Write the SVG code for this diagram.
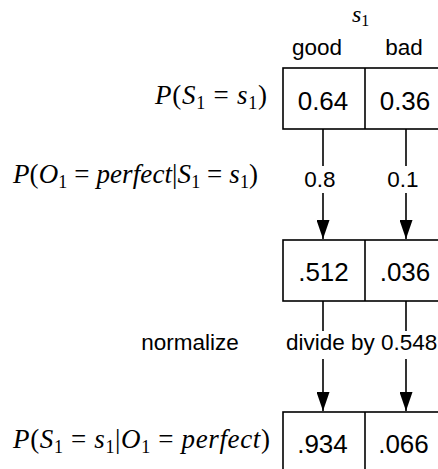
<svg xmlns="http://www.w3.org/2000/svg" width="438" height="469" viewBox="0 0 438 469">
<style>
  .box { fill: #fff; stroke: #000; stroke-width: 1.6; }
  .div { stroke: #000; stroke-width: 1.6; }
  .num { font-family: "Liberation Sans", Arial, sans-serif; font-size: 26px; text-anchor: middle; fill: #000; }
  .lbl { font-family: "Liberation Sans", Arial, sans-serif; font-size: 22.5px; text-anchor: middle; fill: #000; }
  .m { font-family: "Liberation Serif", "Times New Roman", serif; font-size: 27px; fill: #000; }
  .i { font-style: italic; }
  .sub { font-size: 18px; }
  .conn line { stroke: #000; stroke-width: 1.6; }
</style>
<defs>
  <marker id="ah" markerUnits="userSpaceOnUse" markerWidth="19" markerHeight="13" viewBox="0 0 19 13" refX="19" refY="6.5" orient="auto">
    <path d="M0,0 L19,6.5 L0,13 z" fill="#000"/>
  </marker>
</defs>
<rect width="438" height="469" fill="#fff"/>

<!-- header -->
<g id="header">
  <text class="m" x="352" y="22" style="font-size:24px"><tspan class="i">s</tspan><tspan class="sub" style="font-size:16px" dy="4">1</tspan></text>
  <text class="lbl" x="317" y="55">good</text>
  <text class="lbl" x="404" y="55">bad</text>
</g>

<!-- row labels -->
<g id="labels">
  <text class="m" x="155" y="104" textLength="112" lengthAdjust="spacing"><tspan class="i">P</tspan>(<tspan class="i">S</tspan><tspan class="sub" dy="5">1</tspan><tspan dy="-5"> = </tspan><tspan class="i">s</tspan><tspan class="sub" dy="5">1</tspan><tspan dy="-5">)</tspan></text>
  <text class="m" x="13" y="183" textLength="245" lengthAdjust="spacing"><tspan class="i">P</tspan>(<tspan class="i">O</tspan><tspan class="sub" dy="5">1</tspan><tspan dy="-5"> = </tspan><tspan class="i">perfect</tspan>|<tspan class="i">S</tspan><tspan class="sub" dy="5">1</tspan><tspan dy="-5"> = </tspan><tspan class="i">s</tspan><tspan class="sub" dy="5">1</tspan><tspan dy="-5">)</tspan></text>
  <text class="lbl" x="190" y="350">normalize</text>
  <text class="m" x="13" y="448" textLength="257" lengthAdjust="spacing"><tspan class="i">P</tspan>(<tspan class="i">S</tspan><tspan class="sub" dy="5">1</tspan><tspan dy="-5"> = </tspan><tspan class="i">s</tspan><tspan class="sub" dy="5">1</tspan><tspan dy="-5">|</tspan><tspan class="i">O</tspan><tspan class="sub" dy="5">1</tspan><tspan dy="-5"> = </tspan><tspan class="i">perfect</tspan>)</text>
</g>

<!-- nodes -->
<g id="prior">
  <rect class="box" x="283" y="68" width="164" height="61"/>
  <line class="div" x1="365" y1="68" x2="365" y2="129"/>
  <text class="num" x="323" y="110">0.64</text>
  <text class="num" x="405" y="110">0.36</text>
</g>
<g id="joint">
  <rect class="box" x="283" y="240" width="164" height="61"/>
  <line class="div" x1="365" y1="240" x2="365" y2="301"/>
  <text class="num" x="323.5" y="281">.512</text>
  <text class="num" x="405" y="281">.036</text>
</g>
<g id="posterior">
  <rect class="box" x="283" y="412" width="164" height="61"/>
  <line class="div" x1="365" y1="412" x2="365" y2="473"/>
  <text class="num" x="322.5" y="453">.934</text>
  <text class="num" x="403.5" y="453">.066</text>
</g>

<!-- connectors -->
<g id="connectors" class="conn">
  <line x1="323" y1="129" x2="323" y2="166"/>
  <line x1="323" y1="193" x2="323" y2="239" marker-end="url(#ah)"/>
  <line x1="406" y1="129" x2="406" y2="166"/>
  <line x1="406" y1="193" x2="406" y2="239" marker-end="url(#ah)"/>
  <text class="lbl" x="320" y="187">0.8</text>
  <text class="lbl" x="403" y="187">0.1</text>

  <line x1="323" y1="301" x2="323" y2="331"/>
  <line x1="323" y1="359" x2="323" y2="411" marker-end="url(#ah)"/>
  <line x1="406" y1="301" x2="406" y2="331"/>
  <line x1="406" y1="359" x2="406" y2="411" marker-end="url(#ah)"/>
  <text class="lbl" x="286" y="350" style="text-anchor:start">divide by 0.548</text>
</g>
</svg>
